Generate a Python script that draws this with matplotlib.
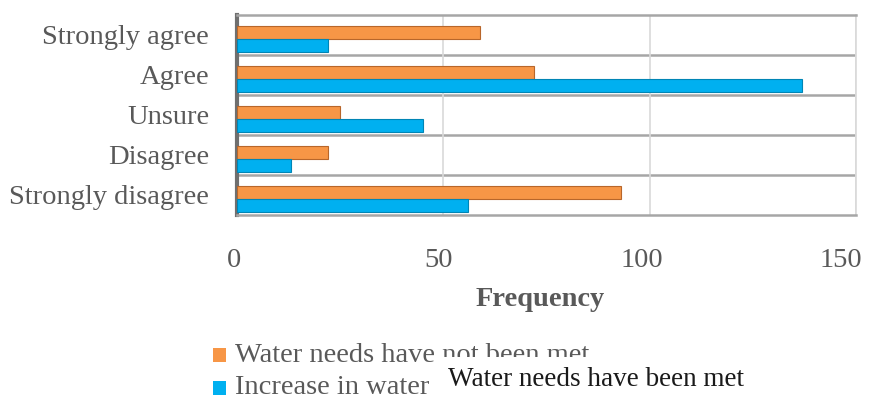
import matplotlib.pyplot as plt
from matplotlib.patches import Rectangle
from matplotlib.transforms import ScaledTranslation

# Datos
categorias = ["Strongly disagree", "Disagree", "Unsure", "Agree", "Strongly agree"]
no_cubiertas = [93, 22, 25, 72, 59]      # Water needs have not been met
aumento = [56, 13, 45, 137, 22]          # Increase in water
etiquetas_serie = ["Water needs have not been met", "Increase in water"]
ticks_x = [0, 50, 100, 150]
texto_extra = "Water needs have been met"

naranja = "#F79646"
azul = "#00B0F0"
gris = "#595959"

plt.rcParams["font.family"] = ["Liberation Serif", "DejaVu Serif"]

W, H = 869, 395
fig = plt.figure(figsize=(W / 100, H / 100), dpi=100)
ax = fig.add_axes([237 / W, 1 - 215 / H, (856 - 237) / W, 200 / H])

y = list(range(len(categorias)))
alto = 0.33
ax.barh([v + 0.07 for v in y], no_cubiertas, height=alto, color=naranja,
        edgecolor="#B8662A", linewidth=0.8, zorder=3)
ax.barh([v - 0.27 for v in y], aumento, height=alto, color=azul,
        edgecolor="#0085B5", linewidth=0.8, zorder=3)

ax.set_xlim(0, 150)
ax.set_ylim(-0.5, len(categorias) - 0.5)
ax.set_xticks(ticks_x)
ax.set_yticks(y)
ax.set_yticklabels(categorias)
ax.tick_params(axis="both", length=0, labelsize=20.5, colors=gris)
ax.tick_params(axis="y", pad=20)
ax.tick_params(axis="x", pad=24)

# Efecto de perspectiva: etiquetas del eje x desplazadas hacia la izquierda
desplazamientos = [-3, -5, -8, -15]
for lab, dx in zip(ax.get_xticklabels(), desplazamientos):
    lab.set_transform(lab.get_transform() + ScaledTranslation(dx / 100, 0, fig.dpi_scale_trans))

# Rejilla vertical y separadores horizontales
ax.grid(axis="x", color="#d9d9d9", linewidth=1.2, zorder=0)
for b in range(len(categorias) - 1):
    ax.axhline(b + 0.5, color="#a6a6a6", linewidth=1.8, zorder=1)

for lado in ["top", "bottom"]:
    ax.spines[lado].set_color("#a6a6a6")
    ax.spines[lado].set_linewidth(1.8)
ax.spines["right"].set_color("#d9d9d9")
ax.spines["right"].set_linewidth(1.2)
ax.spines["left"].set_color("#6f6f6f")
ax.spines["left"].set_linewidth(3)

ax.set_xlabel("Frequency", fontsize=20.5, fontweight="bold", color=gris, labelpad=10)
ax.xaxis.label.set_x(0.49)

# Leyenda (recortada como en el original)
colores = [naranja, azul]
for i, (lab, c) in enumerate(zip(etiquetas_serie, colores)):
    yc = 355 + 33 * i
    fig.patches.append(Rectangle((213 / W, 1 - (yc + 7) / H), 13 / W, 14 / H,
                                 transform=fig.transFigure, facecolor=c,
                                 edgecolor="none", figure=fig, zorder=2))
    fig.text(235 / W, 1 - yc / H, lab, fontsize=20.5, color=gris,
             va="center", ha="left", zorder=2)

# Caja blanca superpuesta con el texto extra
fig.patches.append(Rectangle((440 / W, 0), 330 / W, 1 - 357 / H,
                             transform=fig.transFigure, facecolor="white",
                             edgecolor="none", figure=fig, zorder=4))
fig.text(448 / W, 1 - 380 / H, texto_extra, fontsize=19.5, color="#1a1a1a",
         va="center", ha="left", zorder=5)

fig.savefig("out.png", dpi=100, facecolor="white")
